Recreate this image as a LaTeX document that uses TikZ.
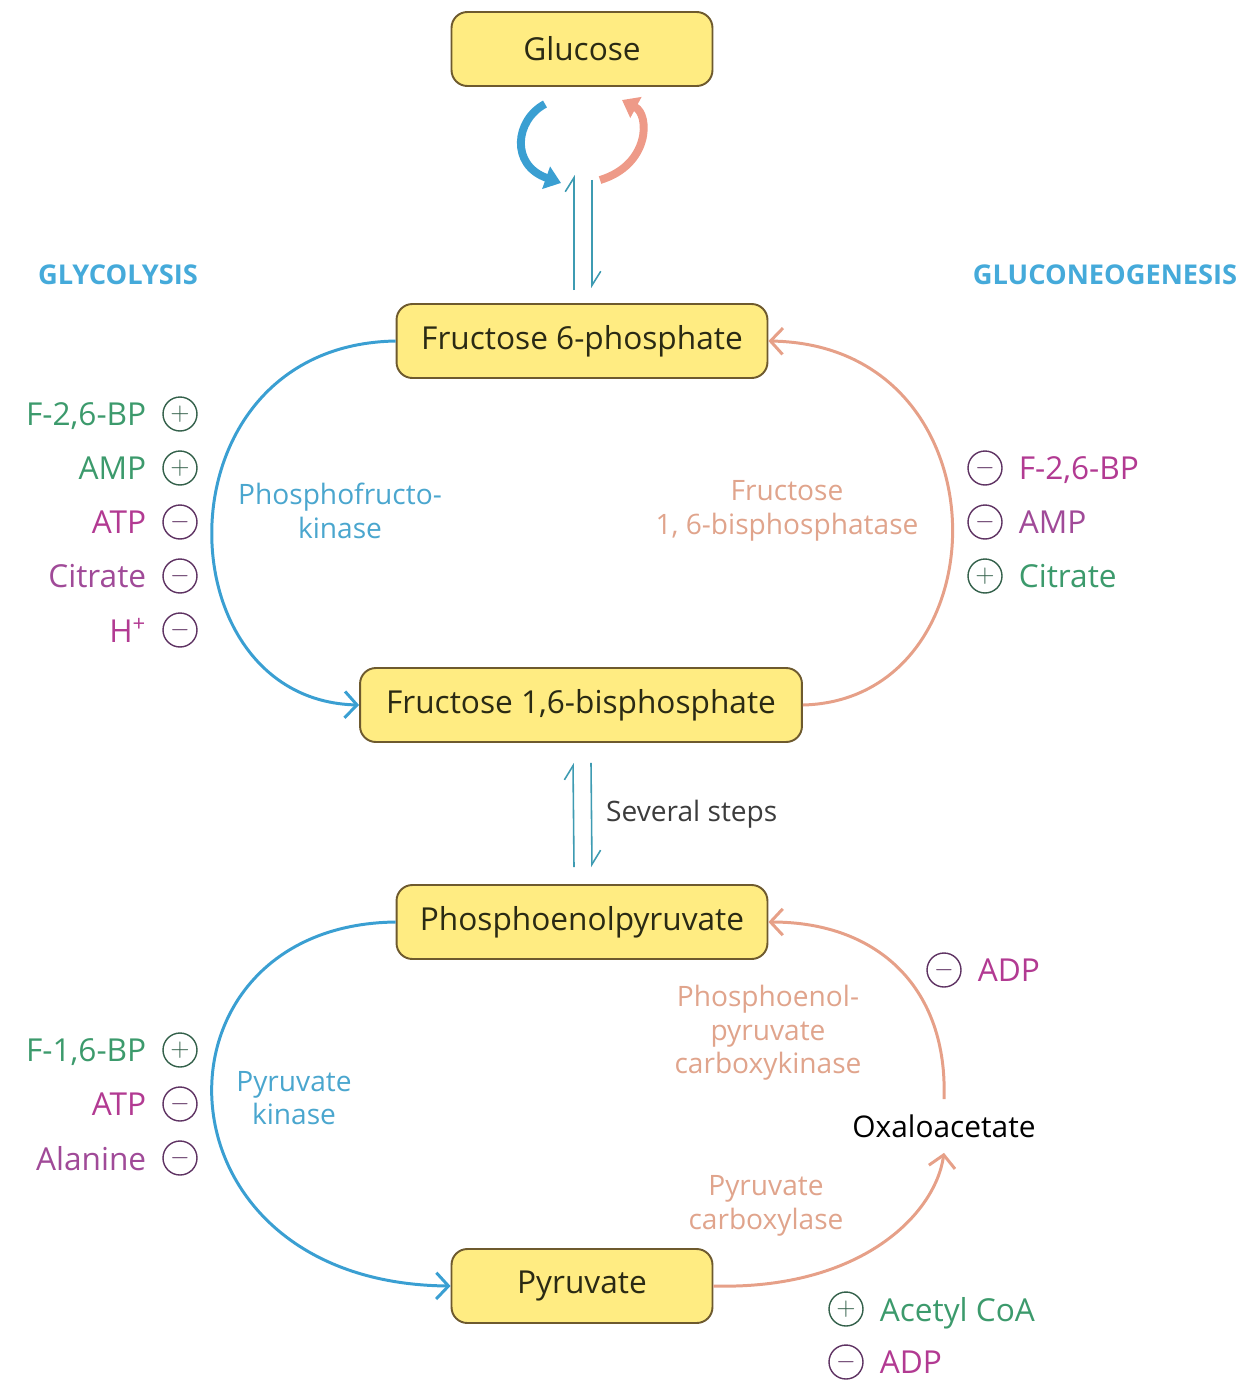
\documentclass[tikz,border=0pt]{standalone}
\usepackage{fontspec}
\setmainfont{Open Sans}
\usetikzlibrary{positioning, arrows.meta}
\definecolor{boxFill}{HTML}{FFEC82}
\definecolor{boxEdge}{HTML}{6E5A2E}
\definecolor{textDark}{HTML}{2A2A14}
\definecolor{textGray}{HTML}{3C3C3C}
\definecolor{glyBlue}{HTML}{3A9FD2}
\definecolor{glyLabel}{HTML}{4AA6CE}
\definecolor{gngSalmon}{HTML}{E6A088}
\definecolor{gngLabel}{HTML}{E0A48C}
\definecolor{swirlSalmon}{HTML}{EE9A88}
\definecolor{eqTeal}{HTML}{3E9BB2}
\definecolor{titleBlue}{HTML}{45AADA}
\definecolor{actGreen}{HTML}{3C9A6C}
\definecolor{inhPink}{HTML}{B23A92}
\definecolor{inhPurple}{HTML}{A04A98}
\definecolor{plusRing}{HTML}{33604A}
\definecolor{minusRing}{HTML}{5E3262}

\begin{document}
\begin{tikzpicture}[x=0.02cm, y=-0.02cm, node distance=0.28cm,
  metab/.style={draw=boxEdge, line width=1.1pt, rounded corners=9pt, fill=boxFill,
    text=textDark, font=\fontsize{18}{21}\selectfont, minimum height=1.48cm},
  enz/.style={align=center, font=\fontsize{16}{19}\selectfont},
  title/.style={text=titleBlue, font=\bfseries\fontsize{15.5}{18}\selectfont},
  reg/.style={font=\fontsize{18}{21}\selectfont, inner sep=1pt, text depth=0pt},
  act/.style={circle, draw=plusRing, line width=0.8pt, minimum size=0.68cm,
    inner sep=0pt, text=plusRing, font=\Large},
  inh/.style={circle, draw=minusRing, line width=0.8pt, minimum size=0.68cm,
    inner sep=0pt, text=minusRing, font=\Large},
  flux/.style={line width=1.7pt, -{Straight Barb[length=7pt, width=15pt]}},
  eq/.style={draw=eqTeal, line width=0.9pt, -{Straight Barb[left, length=8pt, width=10pt]}},
  swirl/.style={line width=4.5pt, -{Triangle[length=9pt, width=13pt]}}]

\useasboundingbox (0,0) rectangle (1251,1383);

% metabolites
\node[metab, minimum width=5.22cm] (glc) at (582,49)   {Glucose};
\node[metab, minimum width=7.42cm] (f6p) at (582,341)  {Fructose 6-phosphate};
\node[metab, minimum width=8.84cm] (fbp) at (581,705)  {Fructose 1,6-bisphosphate};
\node[metab, minimum width=7.42cm] (pep) at (582,922)  {Phosphoenolpyruvate};
\node[metab, minimum width=5.22cm] (pyr) at (582,1286) {Pyruvate};
\node[font=\fontsize{17}{20}\selectfont, text=black, inner sep=0.3cm] (oaa) at (944,1126) {Oxaloacetate};

\node[title] (gly) at (118,275)  {GLYCOLYSIS};
\node[title] (gng) at (1105,275) {GLUCONEOGENESIS};

% enzymes
\node[enz, text=glyLabel] (pfk)    at (340,511)  {Phosphofructo-\\kinase};
\node[enz, text=gngLabel] (fbpase) at (787,511)  {Fructose\\1, 6-bisphosphatase};
\node[enz, text=glyLabel] (pk)     at (294,1098) {Pyruvate\\kinase};
\node[enz, text=gngLabel] (pepck)  at (768,1033) {Phosphoenol-\\pyruvate\\carboxykinase};
\node[enz, text=gngLabel] (pc)     at (766,1206) {Pyruvate\\carboxylase};
\node[enz, text=textGray, anchor=west] (steps) at (600,814) {Several steps};

% regulators of phosphofructokinase
\node[act] (pfk1) at (180,414) {$+$};
\node[reg, text=actGreen, left=of pfk1] (pfk1t) {F-2,6-BP};
\node[act] (pfk2) at (180,468) {$+$};
\node[reg, text=actGreen, left=of pfk2] (pfk2t) {AMP};
\node[inh] (pfk3) at (180,522) {$-$};
\node[reg, text=inhPink, left=of pfk3] (pfk3t) {ATP};
\node[inh] (pfk4) at (180,576) {$-$};
\node[reg, text=inhPurple, left=of pfk4] (pfk4t) {Citrate};
\node[inh] (pfk5) at (180,630) {$-$};
\node[reg, text=inhPink, left=of pfk5] (pfk5t) {H\textsuperscript{+}};

% regulators of fructose 1,6-bisphosphatase
\node[inh] (fbp1) at (985,468) {$-$};
\node[reg, text=inhPink, right=of fbp1] (fbp1t) {F-2,6-BP};
\node[inh] (fbp2) at (985,522) {$-$};
\node[reg, text=inhPurple, right=of fbp2] (fbp2t) {AMP};
\node[act] (fbp3) at (985,576) {$+$};
\node[reg, text=actGreen, right=of fbp3] (fbp3t) {Citrate};

% regulators of pyruvate kinase
\node[act] (pk1) at (180,1050) {$+$};
\node[reg, text=actGreen, left=of pk1] (pk1t) {F-1,6-BP};
\node[inh] (pk2) at (180,1104) {$-$};
\node[reg, text=inhPink, left=of pk2] (pk2t) {ATP};
\node[inh] (pk3) at (180,1158) {$-$};
\node[reg, text=inhPurple, left=of pk3] (pk3t) {Alanine};

% regulators of PEPCK and pyruvate carboxylase
\node[inh] (pepck1) at (944,970) {$-$};
\node[reg, text=inhPink, right=of pepck1] (pepck1t) {ADP};
\node[act] (pc1) at (846,1309) {$+$};
\node[reg, text=actGreen, right=of pc1] (pc1t) {Acetyl CoA};
\node[inh] (pc2) at (846,1362) {$-$};
\node[reg, text=inhPink, right=of pc2] (pc2t) {ADP};

% glucose <-> fructose 6-phosphate
\draw[eq] ([xshift=-0.16cm, yshift=0.26cm]f6p.north) -- ([xshift=-0.16cm, yshift=-1.76cm]glc.south);
\draw[eq] ([xshift=0.2cm, yshift=-1.86cm]glc.south) -- ([xshift=0.2cm, yshift=0.3cm]f6p.north);
\coordinate (swB)  at (545,104);
\coordinate (swBe) at (561,183);
\coordinate (swS)  at (600,180);
\coordinate (swSe) at (622,100);
\draw[swirl, glyBlue] (swB) .. controls (515,120) and (510,165) .. (swBe);
\draw[swirl, swirlSalmon] (swS) .. controls (650,165) and (650,115) .. (swSe);

% upper cycle
\draw[flux, glyBlue] (f6p.west) .. controls (155,345) and (160,700) .. (fbp.west);
\draw[flux, gngSalmon] (fbp.east) .. controls (1005,700) and (1010,345) .. (f6p.east);

% several steps
\draw[eq] ([xshift=-0.16cm, yshift=0.34cm]pep.north) -- ([xshift=-0.16cm, yshift=-0.4cm]fbp.south);
\draw[eq] ([xshift=0.2cm, yshift=-0.4cm]fbp.south) -- ([xshift=0.2cm, yshift=0.34cm]pep.north);

% lower cycle
\draw[flux, glyBlue] (pep.west) .. controls (140,925) and (145,1283) .. (pyr.west);
\draw[flux, gngSalmon] (pyr.east) .. controls (860,1290) and (935,1215) .. (oaa.south);
\draw[flux, gngSalmon] (oaa.north) .. controls (948,990) and (880,922) .. (pep.east);

\end{tikzpicture}
\end{document}
